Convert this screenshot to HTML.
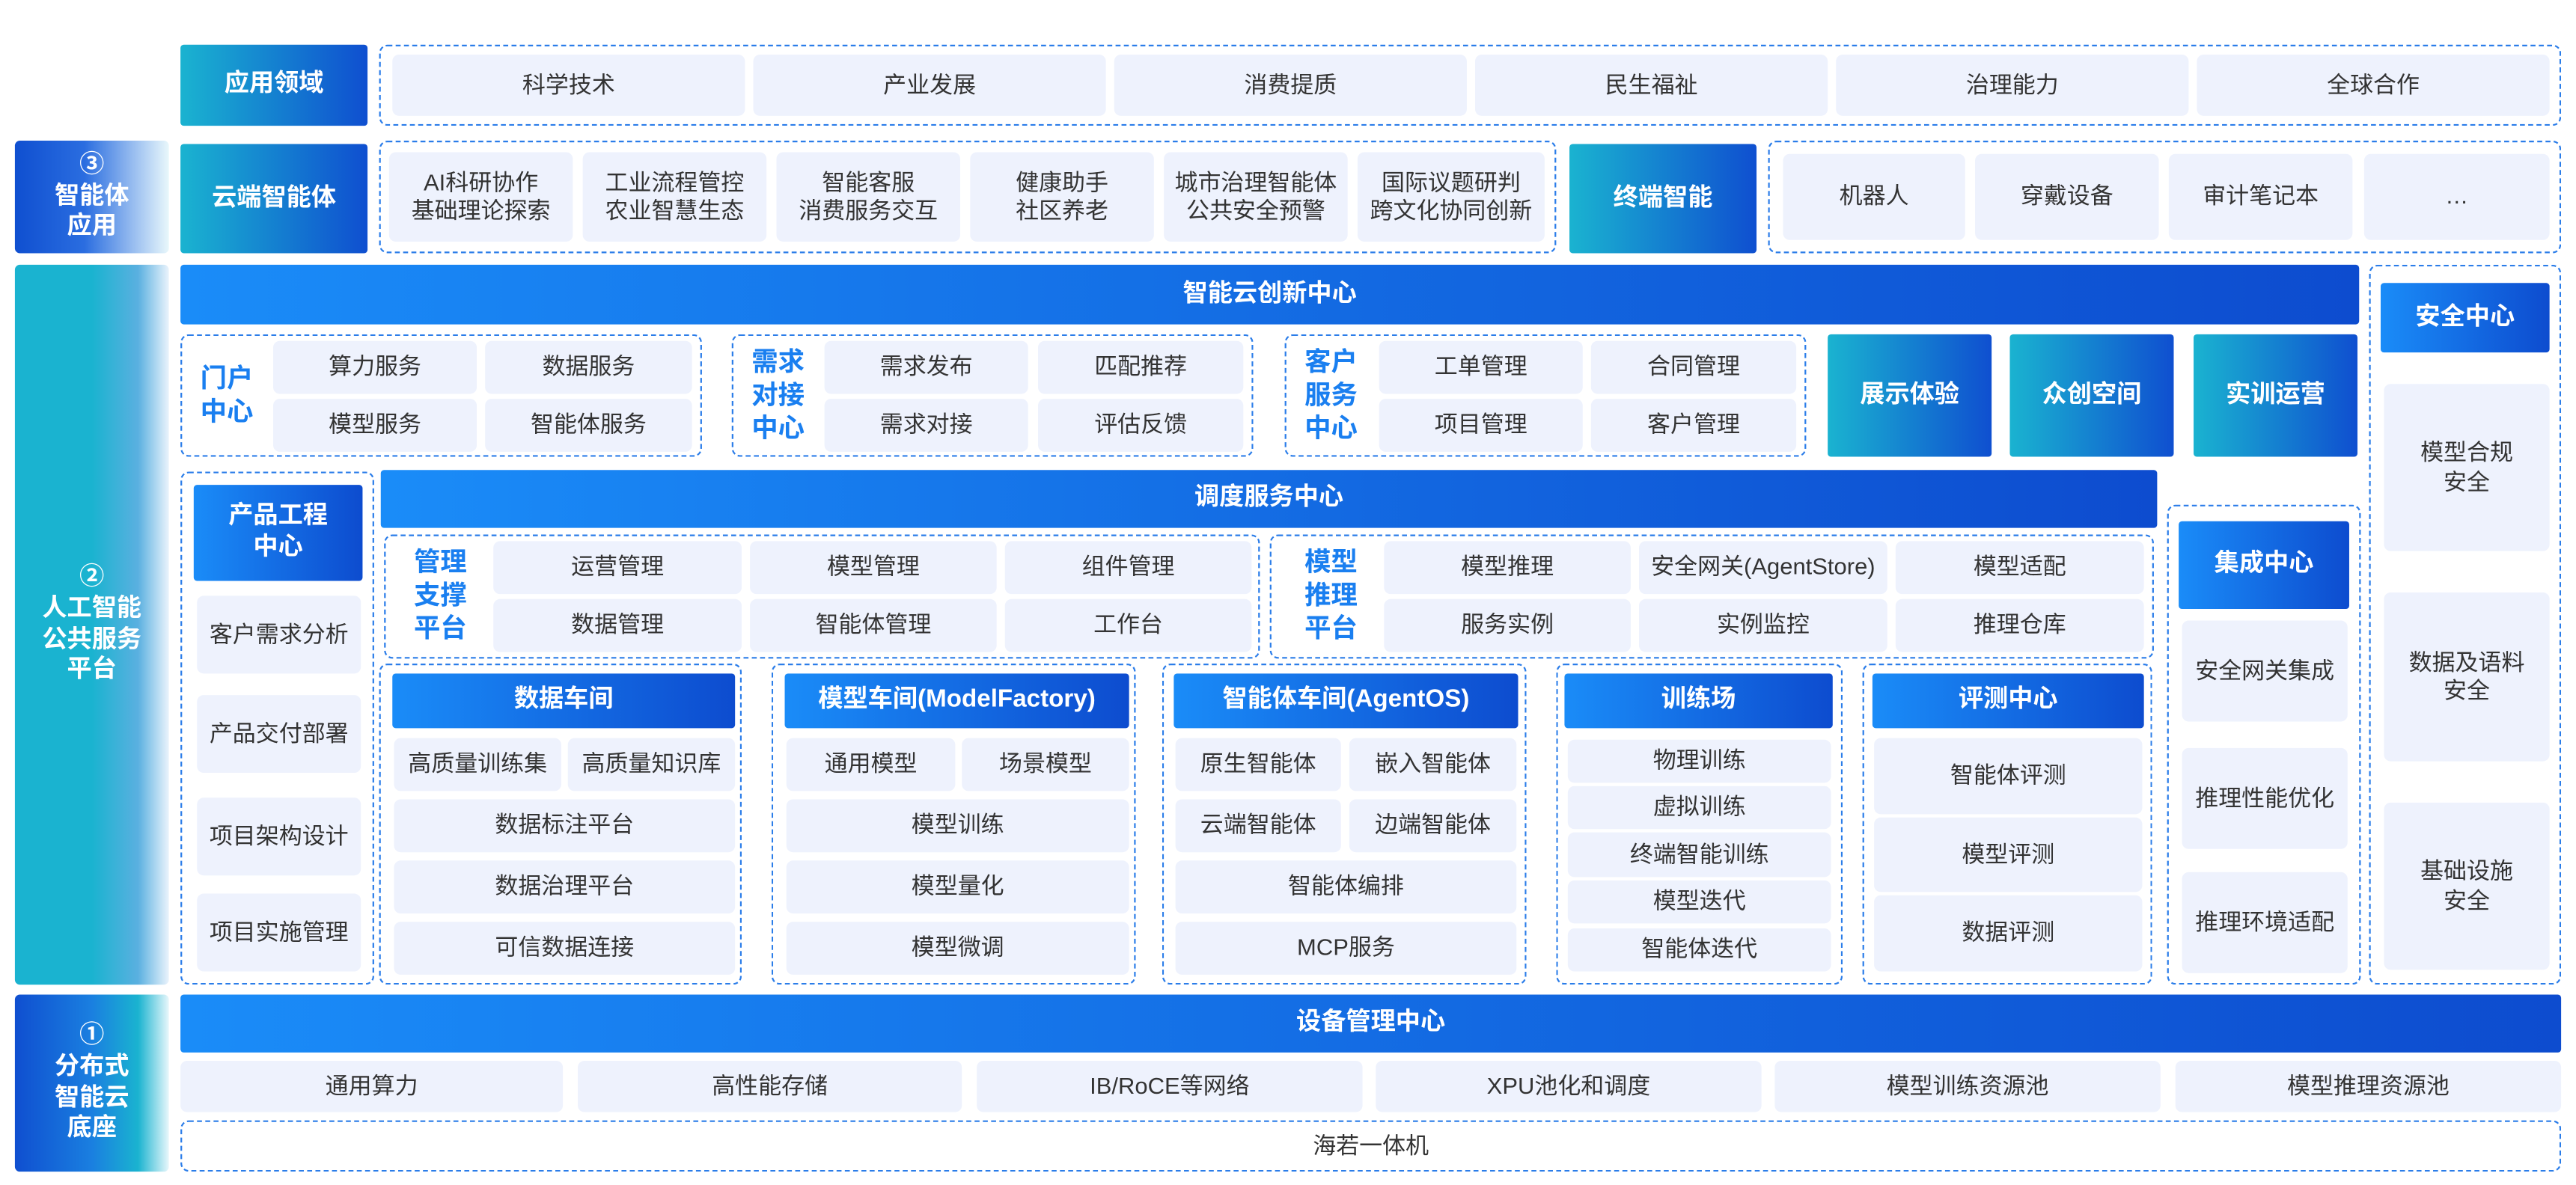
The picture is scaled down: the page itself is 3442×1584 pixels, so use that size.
<!DOCTYPE html>
<html><head><meta charset="utf-8"><style>
html,body{margin:0;padding:0;background:#fff;}
#w{position:relative;width:3442px;height:1584px;overflow:hidden;background:#fff;}
#c{position:absolute;left:0;top:0;width:1556px;height:716px;transform:scale(2.2121);transform-origin:0 0;font-family:"Liberation Sans","Noto Sans CJK SC",sans-serif;}
#c div{position:absolute;box-sizing:border-box;display:flex;align-items:center;justify-content:center;text-align:center;line-height:1.25;}
.i{background:#eef2fd;color:#333;font-size:14px;border-radius:4px;}
.d{border:1.3px dashed #2b7de9;border-radius:5px;}
.b{background:linear-gradient(90deg,#1a8cf8,#0d4ccf);color:#fff;font-size:15px;font-weight:bold;border-radius:2px;}
.t{background:linear-gradient(90deg,#1ab3d0,#0f4fd0);color:#fff;font-size:15px;font-weight:bold;border-radius:2px;}
.l{color:#1a7ff0;font-size:16px;font-weight:bold;}
.s{color:#fff;font-size:15px;font-weight:bold;}
</style></head><body><div id="w"><div id="c">
<!-- left labels -->
<div class="s" style="left:9px;top:85px;width:93px;height:68px;background:linear-gradient(90deg,#0f4fd0 0%,#2a6de0 45%,#e8f7fb 100%);border-radius:3px;flex-direction:column">③<br>智能体<br>应用</div>
<div class="s" style="left:9px;top:160px;width:93px;height:435px;background:linear-gradient(90deg,#1ab3d0 0%,#1ab3d0 50%,#5ab0e0 80%,#eaf3fc 100%);border-radius:3px">②<br>人工智能<br>公共服务<br>平台</div>
<div class="s" style="left:9px;top:601px;width:93px;height:107px;background:linear-gradient(90deg,#0f4fd0 0%,#1a7fe0 50%,#1ab3d0 80%,#e8f7fb 100%);border-radius:3px">①<br>分布式<br>智能云<br>底座</div>
<!-- row1 -->
<div class="t" style="left:109px;top:27px;width:113px;height:49px">应用领域</div>
<div class="d" style="left:229px;top:27px;width:1318px;height:49px"></div>
<div class="i" style="left:237px;top:33px;width:213px;height:37px">科学技术</div>
<div class="i" style="left:455px;top:33px;width:213px;height:37px">产业发展</div>
<div class="i" style="left:673px;top:33px;width:213px;height:37px">消费提质</div>
<div class="i" style="left:891px;top:33px;width:213px;height:37px">民生福祉</div>
<div class="i" style="left:1109px;top:33px;width:213px;height:37px">治理能力</div>
<div class="i" style="left:1327px;top:33px;width:213px;height:37px">全球合作</div>
<!-- row2 -->
<div class="t" style="left:109px;top:87px;width:113px;height:66px">云端智能体</div>
<div class="d" style="left:229px;top:85px;width:711px;height:68px"></div>
<div class="i" style="left:235px;top:92px;width:111px;height:54px">AI科研协作<br>基础理论探索</div>
<div class="i" style="left:352px;top:92px;width:111px;height:54px">工业流程管控<br>农业智慧生态</div>
<div class="i" style="left:469px;top:92px;width:111px;height:54px">智能客服<br>消费服务交互</div>
<div class="i" style="left:586px;top:92px;width:111px;height:54px">健康助手<br>社区养老</div>
<div class="i" style="left:703px;top:92px;width:111px;height:54px">城市治理智能体<br>公共安全预警</div>
<div class="i" style="left:820px;top:92px;width:113px;height:54px">国际议题研判<br>跨文化协同创新</div>
<div class="t" style="left:948px;top:87px;width:113px;height:66px">终端智能</div>
<div class="d" style="left:1068px;top:85px;width:479px;height:68px"></div>
<div class="i" style="left:1077px;top:93px;width:110px;height:52px">机器人</div>
<div class="i" style="left:1193px;top:93px;width:111px;height:52px">穿戴设备</div>
<div class="i" style="left:1310px;top:93px;width:111px;height:52px">审计笔记本</div>
<div class="i" style="left:1428px;top:93px;width:112px;height:52px">…</div>
<!-- innovation center -->
<div class="b" style="left:109px;top:160px;width:1316px;height:36px">智能云创新中心</div>
<div class="d" style="left:1431px;top:160px;width:116px;height:435px"></div>
<div class="b" style="left:1438px;top:171px;width:102px;height:42px">安全中心</div>
<div class="i" style="left:1440px;top:232px;width:100px;height:101px">模型合规<br>安全</div>
<div class="i" style="left:1440px;top:358px;width:100px;height:102px">数据及语料<br>安全</div>
<div class="i" style="left:1440px;top:485px;width:100px;height:101px">基础设施<br>安全</div>
<!-- portal rows -->
<div class="d" style="left:109px;top:202px;width:315px;height:74px"></div>
<div class="l" style="left:112px;top:206px;width:50px;height:67px">门户<br>中心</div>
<div class="i" style="left:165px;top:206px;width:123px;height:32px">算力服务</div>
<div class="i" style="left:293px;top:206px;width:125px;height:32px">数据服务</div>
<div class="i" style="left:165px;top:241px;width:123px;height:32px">模型服务</div>
<div class="i" style="left:293px;top:241px;width:125px;height:32px">智能体服务</div>
<div class="d" style="left:442px;top:202px;width:315px;height:74px"></div>
<div class="l" style="left:446px;top:206px;width:48px;height:67px">需求<br>对接<br>中心</div>
<div class="i" style="left:498px;top:206px;width:123px;height:32px">需求发布</div>
<div class="i" style="left:627px;top:206px;width:124px;height:32px">匹配推荐</div>
<div class="i" style="left:498px;top:241px;width:123px;height:32px">需求对接</div>
<div class="i" style="left:627px;top:241px;width:124px;height:32px">评估反馈</div>
<div class="d" style="left:776px;top:202px;width:315px;height:74px"></div>
<div class="l" style="left:780px;top:206px;width:48px;height:67px">客户<br>服务<br>中心</div>
<div class="i" style="left:833px;top:206px;width:123px;height:32px">工单管理</div>
<div class="i" style="left:961px;top:206px;width:124px;height:32px">合同管理</div>
<div class="i" style="left:833px;top:241px;width:123px;height:32px">项目管理</div>
<div class="i" style="left:961px;top:241px;width:124px;height:32px">客户管理</div>
<div class="t" style="left:1104px;top:202px;width:99px;height:74px">展示体验</div>
<div class="t" style="left:1214px;top:202px;width:99px;height:74px">众创空间</div>
<div class="t" style="left:1325px;top:202px;width:99px;height:74px">实训运营</div>
<!-- product engineering -->
<div class="d" style="left:109px;top:285px;width:117px;height:310px"></div>
<div class="b" style="left:117px;top:293px;width:102px;height:58px">产品工程<br>中心</div>
<div class="i" style="left:119px;top:360px;width:99px;height:47px">客户需求分析</div>
<div class="i" style="left:119px;top:420px;width:99px;height:47px">产品交付部署</div>
<div class="i" style="left:119px;top:482px;width:99px;height:47px">项目架构设计</div>
<div class="i" style="left:119px;top:540px;width:99px;height:47px">项目实施管理</div>
<!-- scheduling -->
<div class="b" style="left:230px;top:284px;width:1073px;height:35px">调度服务中心</div>
<div class="d" style="left:232px;top:323px;width:529px;height:75px"></div>
<div class="l" style="left:238px;top:327px;width:56px;height:67px">管理<br>支撑<br>平台</div>
<div class="i" style="left:298px;top:327px;width:150px;height:32px">运营管理</div>
<div class="i" style="left:453px;top:327px;width:149px;height:32px">模型管理</div>
<div class="i" style="left:607px;top:327px;width:149px;height:32px">组件管理</div>
<div class="i" style="left:298px;top:362px;width:150px;height:32px">数据管理</div>
<div class="i" style="left:453px;top:362px;width:149px;height:32px">智能体管理</div>
<div class="i" style="left:607px;top:362px;width:149px;height:32px">工作台</div>
<div class="d" style="left:767px;top:323px;width:534px;height:75px"></div>
<div class="l" style="left:776px;top:327px;width:56px;height:67px">模型<br>推理<br>平台</div>
<div class="i" style="left:836px;top:327px;width:149px;height:32px">模型推理</div>
<div class="i" style="left:990px;top:327px;width:150px;height:32px">安全网关(AgentStore)</div>
<div class="i" style="left:1145px;top:327px;width:150px;height:32px">模型适配</div>
<div class="i" style="left:836px;top:362px;width:149px;height:32px">服务实例</div>
<div class="i" style="left:990px;top:362px;width:150px;height:32px">实例监控</div>
<div class="i" style="left:1145px;top:362px;width:150px;height:32px">推理仓库</div>
<!-- integration -->
<div class="d" style="left:1309px;top:305px;width:117px;height:290px"></div>
<div class="b" style="left:1316px;top:315px;width:103px;height:53px">集成中心</div>
<div class="i" style="left:1318px;top:375px;width:100px;height:61px">安全网关集成</div>
<div class="i" style="left:1318px;top:452px;width:100px;height:61px">推理性能优化</div>
<div class="i" style="left:1318px;top:527px;width:100px;height:61px">推理环境适配</div>
<!-- workshops -->
<div class="d" style="left:229px;top:401px;width:219px;height:194px"></div>
<div class="b" style="left:237px;top:407px;width:207px;height:33px">数据车间</div>
<div class="i" style="left:238px;top:446px;width:101px;height:32px">高质量训练集</div>
<div class="i" style="left:343px;top:446px;width:101px;height:32px">高质量知识库</div>
<div class="i" style="left:238px;top:483px;width:206px;height:32px">数据标注平台</div>
<div class="i" style="left:238px;top:520px;width:206px;height:32px">数据治理平台</div>
<div class="i" style="left:238px;top:557px;width:206px;height:32px">可信数据连接</div>
<div class="d" style="left:466px;top:401px;width:220px;height:194px"></div>
<div class="b" style="left:474px;top:407px;width:208px;height:33px">模型车间(ModelFactory)</div>
<div class="i" style="left:475px;top:446px;width:102px;height:32px">通用模型</div>
<div class="i" style="left:581px;top:446px;width:101px;height:32px">场景模型</div>
<div class="i" style="left:475px;top:483px;width:207px;height:32px">模型训练</div>
<div class="i" style="left:475px;top:520px;width:207px;height:32px">模型量化</div>
<div class="i" style="left:475px;top:557px;width:207px;height:32px">模型微调</div>
<div class="d" style="left:702px;top:401px;width:220px;height:194px"></div>
<div class="b" style="left:709px;top:407px;width:208px;height:33px">智能体车间(AgentOS)</div>
<div class="i" style="left:710px;top:446px;width:100px;height:32px">原生智能体</div>
<div class="i" style="left:815px;top:446px;width:101px;height:32px">嵌入智能体</div>
<div class="i" style="left:710px;top:483px;width:100px;height:32px">云端智能体</div>
<div class="i" style="left:815px;top:483px;width:101px;height:32px">边端智能体</div>
<div class="i" style="left:710px;top:520px;width:206px;height:32px">智能体编排</div>
<div class="i" style="left:710px;top:557px;width:206px;height:32px">MCP服务</div>
<div class="d" style="left:940px;top:401px;width:173px;height:194px"></div>
<div class="b" style="left:945px;top:407px;width:162px;height:33px">训练场</div>
<div class="i" style="left:947px;top:447px;width:159px;height:26px">物理训练</div>
<div class="i" style="left:947px;top:475px;width:159px;height:26px">虚拟训练</div>
<div class="i" style="left:947px;top:503px;width:159px;height:27px">终端智能训练</div>
<div class="i" style="left:947px;top:532px;width:159px;height:26px">模型迭代</div>
<div class="i" style="left:947px;top:561px;width:159px;height:26px">智能体迭代</div>
<div class="d" style="left:1125px;top:401px;width:175px;height:194px"></div>
<div class="b" style="left:1131px;top:407px;width:164px;height:33px">评测中心</div>
<div class="i" style="left:1132px;top:446px;width:162px;height:46px">智能体评测</div>
<div class="i" style="left:1132px;top:494px;width:162px;height:45px">模型评测</div>
<div class="i" style="left:1132px;top:541px;width:162px;height:46px">数据评测</div>
<!-- bottom -->
<div class="b" style="left:109px;top:601px;width:1438px;height:35px">设备管理中心</div>
<div class="i" style="left:109px;top:641px;width:231px;height:31px">通用算力</div>
<div class="i" style="left:349px;top:641px;width:232px;height:31px">高性能存储</div>
<div class="i" style="left:590px;top:641px;width:233px;height:31px">IB/RoCE等网络</div>
<div class="i" style="left:831px;top:641px;width:233px;height:31px">XPU池化和调度</div>
<div class="i" style="left:1072px;top:641px;width:233px;height:31px">模型训练资源池</div>
<div class="i" style="left:1314px;top:641px;width:233px;height:31px">模型推理资源池</div>
<div class="d" style="left:109px;top:677px;width:1438px;height:31px;color:#333;font-size:14px">海若一体机</div>
</div></div></body></html>
